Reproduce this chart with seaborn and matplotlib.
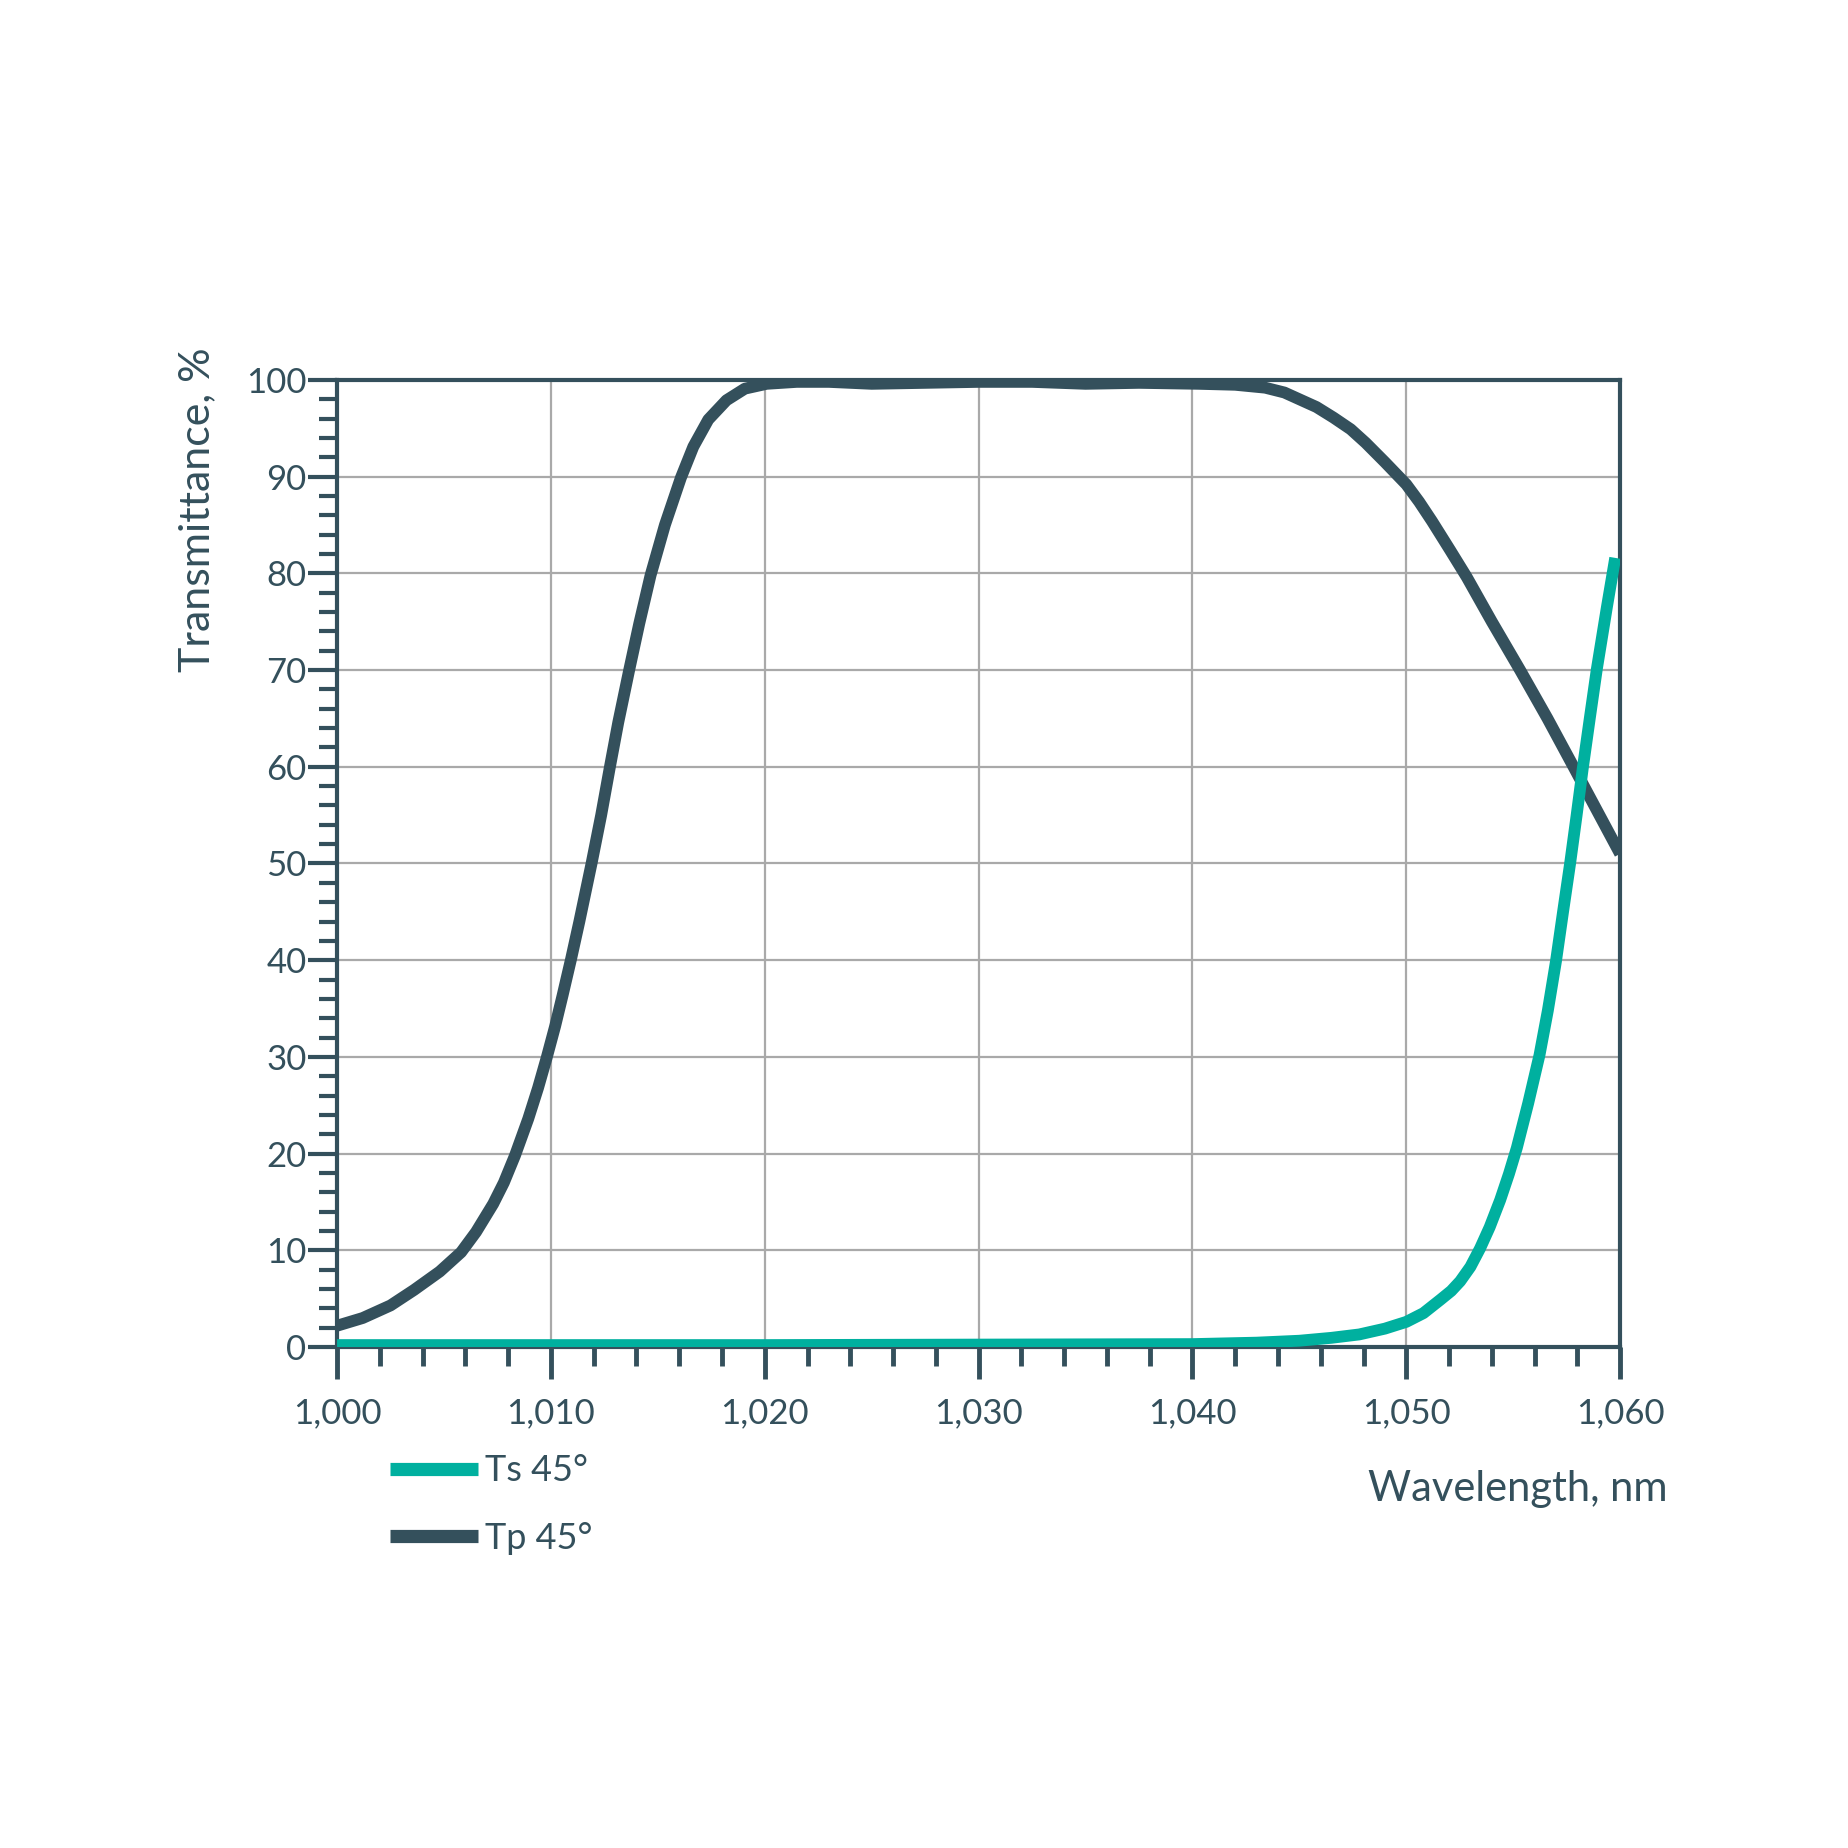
import numpy as np
import pandas as pd
import matplotlib
matplotlib.use("Agg")
import matplotlib.pyplot as plt
import seaborn as sns
from matplotlib.ticker import MultipleLocator, FuncFormatter

DARK = "#34505c"
TEAL = "#00b09f"
GRID = "#a9a9a9"

# Tp 45° transmittance
tp_wl = [1000.0, 1001.2, 1002.5, 1003.6, 1004.8, 1005.8, 1006.5, 1007.3, 1007.8,
         1008.32, 1008.94, 1009.4, 1009.8, 1010.2, 1010.55, 1010.94, 1011.33,
         1011.9, 1012.35, 1012.76, 1013.15, 1013.66, 1014.13, 1014.66, 1015.33,
         1016.08, 1016.66, 1017.36, 1018.21, 1019.07, 1020.09, 1021.5, 1023.0,
         1025.0, 1027.5, 1030.0, 1032.5, 1035.0, 1037.5, 1040.3, 1042.0, 1043.4,
         1044.3, 1045.0, 1045.8, 1046.6, 1047.4, 1048.1, 1049.0, 1050.0, 1050.6,
         1051.2, 1052.05, 1052.83, 1054.0, 1055.32, 1056.6, 1057.82, 1058.91,
         1060.0]
tp_val = [2.2, 3.0, 4.3, 5.9, 7.8, 9.8, 11.9, 14.8, 17.0,
          19.8, 23.6, 26.8, 29.9, 33.2, 36.4, 40.1, 44.0,
          50.0, 55.0, 60.0, 64.6, 70.0, 74.8, 79.8, 85.0,
          89.9, 93.1, 95.9, 97.9, 99.1, 99.6, 99.8, 99.8,
          99.6, 99.7, 99.8, 99.8, 99.6, 99.7, 99.6, 99.5, 99.2,
          98.7, 98.0, 97.2, 96.1, 94.9, 93.5, 91.5, 89.2, 87.4,
          85.4, 82.4, 79.6, 75.0, 70.0, 65.0, 60.0, 55.5,
          51.0]

# Ts 45° transmittance
ts_wl = [1000.0, 1020.0, 1030.0, 1040.0, 1043.0, 1045.0, 1046.5, 1047.8, 1049.0,
         1050.0, 1050.8, 1051.6, 1052.1, 1052.52, 1053.0, 1053.45, 1053.9, 1054.39,
         1054.8, 1055.17, 1055.7, 1056.23, 1056.62, 1057.0, 1057.33, 1057.66,
         1057.96, 1058.25, 1058.58, 1058.91, 1059.38, 1059.77]
ts_val = [0.2, 0.2, 0.25, 0.3, 0.45, 0.65, 0.95, 1.3, 1.9,
          2.6, 3.5, 4.9, 5.8, 6.8, 8.3, 10.2, 12.4, 15.2,
          17.9, 20.6, 25.2, 30.2, 34.8, 39.9, 45.0, 50.0,
          54.9, 59.8, 65.0, 70.1, 76.5, 81.6]

sns.set_theme(style="white")
plt.rcParams["font.family"] = ["Lato", "DejaVu Sans"]

fig = plt.figure(figsize=(18.48, 18.48), dpi=100)
ax = fig.add_axes([0.1824, 0.2711, 0.6943, 0.5233])

tp = pd.DataFrame({"wl": tp_wl, "T": tp_val})
ts = pd.DataFrame({"wl": ts_wl, "T": ts_val})
sns.lineplot(data=tp, x="wl", y="T", ax=ax, color=DARK, linewidth=8.5,
             label="Tp 45°", solid_capstyle="butt", solid_joinstyle="round", zorder=3)
sns.lineplot(data=ts, x="wl", y="T", ax=ax, color=TEAL, linewidth=8.5,
             label="Ts 45°", solid_capstyle="butt", solid_joinstyle="round", zorder=4)

ax.set_xlim(1000, 1060)
ax.set_ylim(0, 100)
ax.xaxis.set_major_locator(MultipleLocator(10))
ax.xaxis.set_minor_locator(MultipleLocator(2))
ax.yaxis.set_major_locator(MultipleLocator(10))
ax.yaxis.set_minor_locator(MultipleLocator(2))
ax.xaxis.set_major_formatter(FuncFormatter(lambda v, p: f"{int(v):,}"))

ax.grid(True, which="major", color=GRID, linewidth=1.6, zorder=1)
for s in ax.spines.values():
    s.set_color(DARK)
    s.set_linewidth(3)
    s.set_visible(True)

ax.tick_params(axis="y", which="major", direction="out", length=21, width=3,
               color=DARK, labelcolor=DARK, labelsize=25, pad=1, left=True)
ax.tick_params(axis="y", which="minor", direction="out", length=13, width=3,
               color=DARK, left=True)
ax.tick_params(axis="x", which="major", direction="out", length=23, width=3.5,
               color=DARK, labelcolor=DARK, labelsize=25, pad=13, bottom=True)
ax.tick_params(axis="x", which="minor", direction="out", length=14, width=3.5,
               color=DARK, bottom=True)

ax.set_xlabel("Wavelength, nm", fontsize=30, color=DARK, ha="right", va="center")
ax.xaxis.set_label_coords(1.037, -0.147)
ax.set_ylabel("Transmittance, %", fontsize=31, color=DARK, ha="center", va="center")
ax.yaxis.set_label_coords(-0.109, 0.866)

handles, labels = ax.get_legend_handles_labels()
order = [labels.index("Ts 45°"), labels.index("Tp 45°")]
leg = ax.legend([handles[i] for i in order], [labels[i] for i in order],
                loc="upper left", bbox_to_anchor=(0.041, -0.111), frameon=False,
                fontsize=26, handlelength=2.45, handletextpad=0.2,
                labelspacing=0.95, borderpad=0, borderaxespad=0)
for t in leg.get_texts():
    t.set_color(DARK)
for h in leg.get_lines():
    h.set_linewidth(9.5)
    h.set_solid_capstyle("butt")

fig.savefig("out.png", dpi=100, facecolor="white")
plt.close(fig)
